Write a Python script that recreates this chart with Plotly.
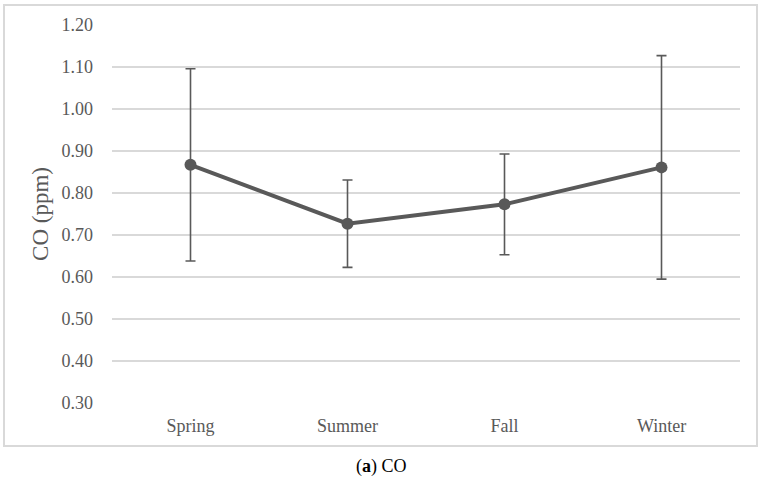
import plotly.graph_objects as go

seasons = ["Spring", "Summer", "Fall", "Winter"]
co_mean = [0.867, 0.727, 0.773, 0.861]
co_err = [0.229, 0.104, 0.120, 0.266]
y_ticks = [0.30, 0.40, 0.50, 0.60, 0.70, 0.80, 0.90, 1.00, 1.10, 1.20]

W, H = 764, 486
L, R, T, B = 112, 24, 25, 83
pw, ph = W - L - R, H - T - B

gray = "#595959"
font = "Liberation Serif"

fig = go.Figure()
fig.add_trace(go.Scatter(
    x=seasons, y=co_mean, mode="lines+markers",
    line=dict(color=gray, width=4),
    marker=dict(color=gray, size=12),
    error_y=dict(type="data", array=co_err, visible=True, color=gray, thickness=1.6, width=5),
    showlegend=False,
))

fig.update_layout(
    width=W, height=H,
    margin=dict(l=L, r=R, t=T, b=B),
    paper_bgcolor="white", plot_bgcolor="white",
    font=dict(family=font, size=18, color=gray),
    xaxis=dict(range=[-0.5, 3.5], showgrid=False, zeroline=False, showline=False, ticks="",
               tickfont=dict(family=font, size=18, color=gray), ticklabelstandoff=10),
    yaxis=dict(range=[0.30, 1.20], tickvals=y_ticks, tickformat=".2f",
               showgrid=True, gridcolor="#d9d9d9", gridwidth=1.5, zeroline=False,
               showline=False, ticks="", tickfont=dict(family=font, size=18, color=gray),
               ticklabelstandoff=18,
               title=dict(text="CO (ppm)", font=dict(family=font, size=23, color=gray), standoff=6)),
    shapes=[dict(type="rect", xref="paper", yref="paper",
                 x0=(4 - L) / pw, x1=(757 - L) / pw,
                 y0=(H - B - 446) / ph, y1=(H - B - 5) / ph,
                 line=dict(color="#d9d9d9", width=2), layer="below")],
    annotations=[dict(text="(<b>a</b>) CO", xref="paper", yref="paper",
                      x=(381 - L) / pw, y=(H - B - 466) / ph,
                      showarrow=False, xanchor="center", yanchor="middle",
                      font=dict(family=font, size=18, color="black"))],
)

fig.write_html("out.html", config={"displayModeBar": False},
               post_script="document.body.style.margin='0px';")
